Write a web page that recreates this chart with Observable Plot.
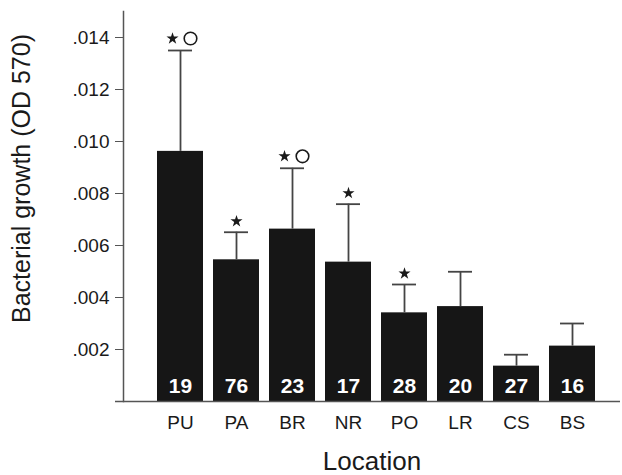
<!DOCTYPE html>
<html>
<head>
<meta charset="utf-8">
<script src="https://cdn.jsdelivr.net/npm/d3@7"></script>
<script src="https://cdn.jsdelivr.net/npm/@observablehq/plot@0.6"></script>
<style>
  html, body { margin: 0; padding: 0; background: #fff; }
  #chart svg { display: block; }
</style>
</head>
<body>
<div id="chart"></div>
<script>
const locations = ["PU", "PA", "BR", "NR", "PO", "LR", "CS", "BS"];
const means     = [0.00962, 0.00545, 0.00663, 0.00536, 0.00341, 0.00365, 0.00136, 0.00213];
const uppers    = [0.01350, 0.00651, 0.00897, 0.00759, 0.00450, 0.00499, 0.00180, 0.00300];
const counts    = [19, 76, 23, 17, 28, 20, 27, 16];
const starMarks   = [true, true, true, true, true, false, false, false];
const circleMarks = [true, false, true, false, false, false, false, false];
const yTicks = [0.002, 0.004, 0.006, 0.008, 0.010, 0.012, 0.014];

const data = locations.map((loc, i) => ({
  loc, mean: means[i], upper: uppers[i], n: counts[i],
  star: starMarks[i], circle: circleMarks[i]
}));

const font = "'Liberation Sans', Arial, Helvetica, sans-serif";
const ink = "#1a1a1a";

const chart = Plot.plot({
  width: 622,
  height: 475,
  marginLeft: 123,
  marginRight: 2,
  marginTop: 11,
  marginBottom: 74,
  style: { fontFamily: font, color: ink, background: "#fff" },
  x: { domain: locations, range: [151.4, 601.6], paddingInner: 0.178, paddingOuter: 0.1 },
  y: { domain: [0, 0.015] },
  marks: [
    Plot.barY(data, { x: "loc", y: "mean", fill: "#161616" }),
    Plot.ruleX(data, { x: "loc", y1: "mean", y2: "upper", stroke: "#444", strokeWidth: 1.8 }),
    Plot.tickY(data, { x: "loc", y: "upper", stroke: "#444", strokeWidth: 1.8, insetLeft: 11, insetRight: 11 }),
    Plot.dot(data.filter(d => d.star && !d.circle), { x: "loc", y: "upper", symbol: "star", r: 3.8, fill: ink, stroke: "none", dy: -11 }),
    Plot.dot(data.filter(d => d.star && d.circle), { x: "loc", y: "upper", symbol: "star", r: 3.8, fill: ink, stroke: "none", dy: -12, dx: -8 }),
    Plot.dot(data.filter(d => d.circle), { x: "loc", y: "upper", symbol: "circle", r: 6.3, fill: "none", stroke: ink, strokeWidth: 1.6, dy: -12, dx: 10 }),
    Plot.text(data, { x: "loc", y: 0, text: d => String(d.n), fill: "white", fontWeight: "bold", fontSize: 21, lineAnchor: "bottom", dy: -9 }),
    Plot.frame({ anchor: "left", stroke: "#555", strokeWidth: 1.5 }),
    Plot.ruleY([0], { stroke: "#555", strokeWidth: 1.5, insetLeft: -8 }),
    Plot.axisY({
      ticks: yTicks,
      tickFormat: d => d3.format(".3f")(d).replace(/^0/, ""),
      tickSize: 8,
      tickPadding: 6,
      fontSize: 19,
      stroke: "#555",
      label: null
    }),
    Plot.axisX({ tickSize: 0, tickPadding: 14, fontSize: 19, label: null }),
    Plot.text(["Location"], { frameAnchor: "bottom", lineAnchor: "bottom", dy: 68, fontSize: 26, fill: ink }),
    Plot.text(["Bacterial growth (OD 570)"], { frameAnchor: "left", textAnchor: "middle", lineAnchor: "middle", rotate: -90, dx: -102, dy: -28, fontSize: 25, fill: ink })
  ]
});

document.getElementById("chart").appendChild(chart);
</script>
</body>
</html>
